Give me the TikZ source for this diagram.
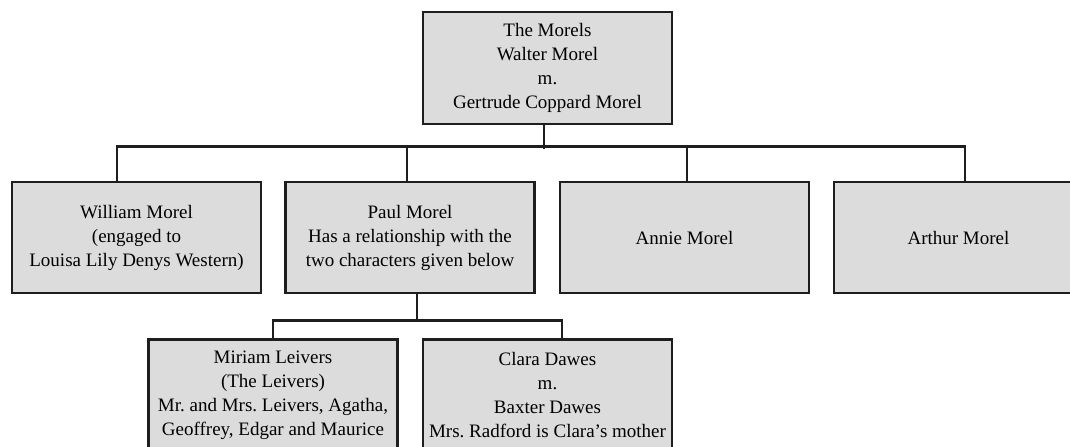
\documentclass[tikz,border=0pt]{standalone}
\usepackage{fontspec}
\setmainfont{Liberation Serif}
\usepackage{xcolor}
\definecolor{boxgray}{RGB}{220,220,220}
\definecolor{edgeblack}{RGB}{30,30,30}

\begin{document}
\begin{tikzpicture}[x=0.5pt, y=-0.5pt,
    person/.style={draw=edgeblack, line width=1.25pt, fill=boxgray,
                   minimum width=124.5pt, minimum height=55.5pt,
                   inner sep=0pt, align=center,
                   font=\fontsize{9.5}{12}\selectfont},
    link/.style={draw=edgeblack, line width=1.3pt}]
    %\draw[help lines] (0,0) grid[step=50] (1070,446);
    \useasboundingbox (0,0) rectangle (1070,446);
    \clip (0,0) rectangle (1070,446);

    % parents
    \node[person, minimum height=56pt] (morels) at (547.5,68)
        {The Morels\\Walter Morel\\m.\\Gertrude Coppard Morel};

    % children
    \node[person] (william) at (136.5,237.5)
        {William Morel\\(engaged to\\Louisa Lily Denys Western)};
    \node[person] (paul) at (410,237.5)
        {Paul Morel\\Has a relationship with the\\two characters given below};
    \node[person] (annie) at (684.5,237.5) {Annie Morel};
    \node[person] (arthur) at (958.5,237.5) {Arthur Morel};

    % Paul's two relationships
    \node[person] (miriam) at (273,395)
        {Miriam Leivers\\(The Leivers)\\Mr.\ and Mrs.\ Leivers, Agatha,\\Geoffrey, Edgar and Maurice};
    \node[person] (clara) at (547.5,395)
        {Clara Dawes\\m.\\Baxter Dawes\\Mrs.\ Radford is Clara’s mother};

    % tree lines
    \draw[link] ([xshift=-1.75pt]morels.south) -- ++(0,24);
    \draw[link] ([xshift=-9.75pt]william.north) -- ++(0,-34)
                -| ([xshift=3.25pt]arthur.north);
    \draw[link] ([xshift=-1.5pt]paul.north) -- ++(0,-34);
    \draw[link] ([xshift=1.25pt]annie.north) -- ++(0,-34);
    \draw[link] ([xshift=3.5pt]paul.south) -- ++(0,26)
                -| (miriam.north);
    \draw[link] ([xshift=3.5pt]paul.south) ++(0,26)
                -| ([xshift=7.25pt]clara.north);
\end{tikzpicture}
\end{document}
